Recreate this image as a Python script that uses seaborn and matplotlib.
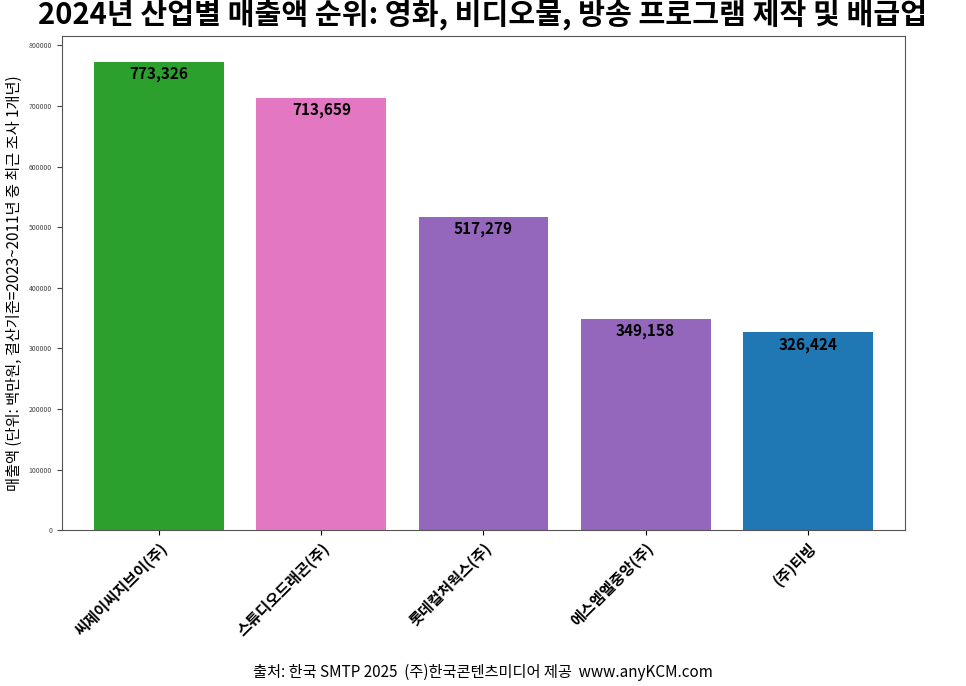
import pandas as pd
import seaborn as sns
import matplotlib.pyplot as plt
from matplotlib import font_manager

# pick whichever CJK family is registered
names = {f.name for f in font_manager.fontManager.ttflist}
cjk = [n for n in ["Noto Sans CJK KR", "Noto Sans CJK JP", "Noto Sans CJK SC",
                   "Noto Sans CJK TC"] if n in names]
plt.rcParams["font.family"] = cjk + ["DejaVu Sans"]

# Data
companies = ["씨제이씨지브이(주)", "스튜디오드래곤(주)", "롯데컬처웍스(주)", "에스엠엘중앙(주)", "(주)티빙"]
sales = [773326, 713659, 517279, 349158, 326424]
colors = ["#2ca02c", "#e377c2", "#9467bd", "#9467bd", "#1f77b4"]

df = pd.DataFrame({"company": companies, "sales": sales})

fig = plt.figure(figsize=(9.66, 6.86), dpi=100)
ax = fig.add_axes([0.064, 0.227, 0.873, 0.72])
sns.barplot(data=df, x="company", y="sales", hue="company", palette=colors,
            legend=False, width=0.8, saturation=1, ax=ax)

for i, v in enumerate(sales):
    ax.text(i, v - 7000, f"{v:,}", ha="center", va="top", fontsize=11, fontweight="bold")

ax.set_ylim(0, 815000)
ax.set_xlim(-0.6, 4.6)
ax.set_yticks(range(0, 800001, 100000))
ax.tick_params(axis="y", labelsize=5, colors="#444444")
ax.tick_params(axis="x", labelsize=11)
for lbl in ax.get_xticklabels():
    lbl.set_rotation(45)
    lbl.set_ha("right")
    lbl.set_rotation_mode("anchor")
    lbl.set_fontweight("bold")
ax.set_xlabel("")
ax.set_ylabel("매출액 (단위: 백만원, 결산기준=2023~2011년 중 최근 조사 1개년)", fontsize=11)
for s in ax.spines.values():
    s.set_color("#555555")

fig.suptitle("2024년 산업별 매출액 순위: 영화, 비디오물, 방송 프로그램 제작 및 배급업",
             fontsize=21, fontweight="bold", y=1.0)
fig.text(0.5, 0.008, "출처: 한국 SMTP 2025  (주)한국콘텐츠미디어 제공  www.anyKCM.com",
         ha="center", va="bottom", fontsize=11)

plt.savefig("out.png", dpi=100)
plt.close()
